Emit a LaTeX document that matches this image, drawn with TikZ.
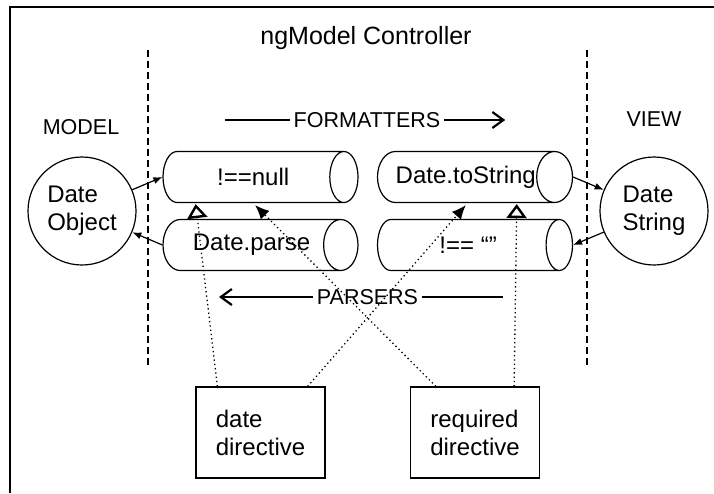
\documentclass[tikz,border=0pt]{standalone}
\usepackage{fontspec}
\setmainfont{Liberation Sans}
\usetikzlibrary{shapes.geometric,arrows.meta}
\begin{document}
\begin{tikzpicture}[x=1pt,y=-1pt,line width=1.2pt,font=\fontsize{24}{28}\selectfont,
	filter/.style={draw,cylinder,shape border rotate=0,aspect=1.6,minimum width=51pt,minimum height=195pt,anchor=shape center,inner sep=0pt},
	side/.style={draw,circle,minimum size=108pt,align=left,inner sep=0pt},
	directive/.style={draw,minimum width=129pt,minimum height=91pt,align=left,inner sep=0pt},
	caps/.style={font=\fontsize{21.5}{26}\selectfont},
	flow/.style={-{Straight Barb[length=11pt,width=16pt,line width=2.2pt]}},
	pass/.style={-{Latex[length=9pt,width=7pt]}},
	link/.style={line width=1.3pt,dash pattern=on 1.3pt off 3pt}]
	\useasboundingbox(0,0)rectangle(714,493);
	\draw(10,493)--(10,7)--(714,7);
	\draw[dash pattern=on 7pt off 4pt](148,50)--(148,365);
	\draw[dash pattern=on 7pt off 4pt](587,50)--(587,365);
	\node[font=\fontsize{25}{30}\selectfont](title)at(366,38){ngModel Controller};
	\node[caps](model)at(81,127){MODEL};
	\node[caps](view)at(654,119){VIEW};
	\node[side](obj)at(82,211){Date\\Object};
	\node[side](str)at(654,211){Date\\String};
	% formatters on top, parsers below
	\node[filter](null)at(260.5,177){!==null};
	\node[filter](parse)at(260.5,245){Date.parse};
	\node[filter](tostr)at(475,177){Date.toString};
	\node[filter](empty)at(475,245){!== “”};
	\node[caps](fmt)at(367,120){FORMATTERS};
	\node[caps](prs)at(367.5,297){PARSERS};
	\draw(fmt.west)--++(-65,0);
	\draw[flow](fmt.east)--++(61,0);
	\draw[flow](prs.west)--++(-94,0);
	\draw(prs.east)--++(81,0);
	\draw[pass](obj)--(null.west);
	\draw[pass](parse.west)--(obj);
	\draw[pass](tostr.east)--(str);
	\draw[pass](str)--(empty.east);
	\node[directive](datedir)at(260.5,432.5){date\\directive};
	\node[directive](reqdir)at(475,432.5){required\\directive};
	\draw[link,-{Triangle[open,length=14pt,width=20pt,line width=2.4pt]}]([xshift=22pt]datedir.north west)--([xshift=-57.5pt,yshift=-1pt]null.south);
	\draw[link,-{Latex[length=14pt,width=12pt]}]([xshift=-18pt]datedir.north east)--([yshift=-2pt]tostr.south);
	\draw[link,-{Latex[length=14pt,width=12pt]}]([xshift=26pt]reqdir.north west)--([xshift=2pt,yshift=-2pt]null.south);
	\draw[link,-{Triangle[open,length=14pt,width=20pt,line width=2.4pt]}]([xshift=-26pt]reqdir.north east)--([xshift=51pt,yshift=-1pt]tostr.south);
\end{tikzpicture}
\end{document}
